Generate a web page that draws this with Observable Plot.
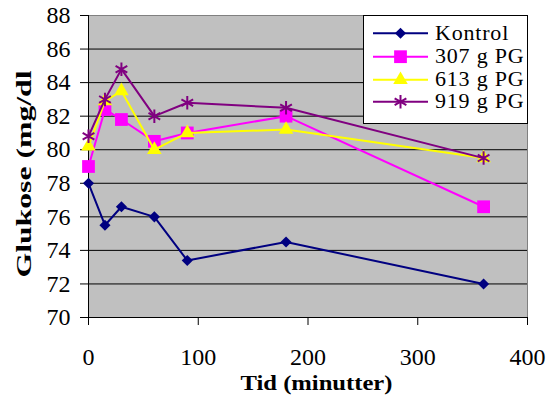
<!DOCTYPE html>
<html>
<head>
<meta charset="utf-8">
<script src="https://cdn.jsdelivr.net/npm/d3@7"></script>
<script src="https://cdn.jsdelivr.net/npm/@observablehq/plot@0.6"></script>
<style>
  html, body { margin: 0; padding: 0; background: white; }
  #wrap { position: relative; width: 547px; height: 405px; }
  #legend { position: absolute; left: 363px; top: 15px; }
</style>
</head>
<body>
<div id="wrap"><div id="chart"></div><div id="legend"></div></div>
<script>
// ---- data ----
const times = [0, 15, 30, 60, 90, 180, 360];
const seriesNames = ["Kontrol", "307 g PG", "613 g PG", "919 g PG"];
const kontrol = [78.0, 75.5, 76.6, 76.0, 73.4, 74.5, 72.0];
const pg307   = [79.0, 82.4, 81.8, 80.5, 81.0, 82.0, 76.6];
const pg613   = [80.2, 82.9, 83.5, 80.0, 81.0, 81.2, 79.5];
const pg919   = [80.8, 83.0, 84.8, 82.0, 82.8, 82.5, 79.5];
const xTicks = [0, 100, 200, 300, 400];
const yTicks = [70, 72, 74, 76, 78, 80, 82, 84, 86, 88];
const xLabel = "Tid (minutter)";
const yLabel = "Glukose (mg/dl";

// ---- styles ----
const FONT = "'Liberation Serif', 'DejaVu Serif', 'Times New Roman', serif";
const seriesValues = [kontrol, pg307, pg613, pg919];
const colors = ["#000080", "#FF00FF", "#FFFF00", "#800080"];
const symbols = ["diamond2", "square", "triangle", "asterisk"];
const radii = [5, 7.2, 5.4, 6.4];
const d3Symbols = [d3.symbolDiamond2, d3.symbolSquare, d3.symbolTriangle, d3.symbolAsterisk];

const rows = seriesNames.flatMap((name, i) =>
  times.map((t, j) => ({series: name, t, v: seriesValues[i][j]})));

const seriesMarks = seriesNames.flatMap((name, i) => {
  const d = rows.filter(r => r.series === name);
  const isStroke = symbols[i] === "asterisk";
  return [
    Plot.line(d, {x: "t", y: "v", stroke: colors[i], strokeWidth: 2}),
    Plot.dot(d, {
      x: "t", y: "v", symbol: () => symbols[i], r: radii[i],
      fill: isStroke ? "none" : colors[i],
      stroke: isStroke ? colors[i] : "none",
      strokeWidth: isStroke ? 2 : 0
    })
  ];
});

const chart = Plot.plot({
  width: 547,
  height: 405,
  marginLeft: 88,
  marginRight: 20,
  marginTop: 15,
  marginBottom: 88,
  style: {fontFamily: FONT, fontSize: "24px", background: "white", color: "black"},
  x: {domain: [0, 400]},
  y: {domain: [70, 88]},
  symbol: {type: "identity"},
  marks: [
    Plot.frame({fill: "#C0C0C0", stroke: null}),
    Plot.ruleY(yTicks.filter(v => v > 70 && v < 88), {stroke: "black", strokeWidth: 1}),
    Plot.frame({stroke: "#808080", fill: null}),
    Plot.ruleX([0], {stroke: "black"}),
    Plot.ruleY([70], {stroke: "black"}),
    Plot.axisX({ticks: xTicks, tickSize: 8, tickPadding: 22, label: null, tickFormat: d => String(d)}),
    Plot.axisY({ticks: yTicks, tickSize: 8, tickPadding: 10, label: null, tickFormat: d => String(d)}),
    ...seriesMarks,
    Plot.text([xLabel], {text: d => d, frameAnchor: "bottom", textAnchor: "start", dx: -67.5, dy: 72, fontWeight: "bold", fontSize: 22}),
    Plot.text([yLabel], {text: d => d, frameAnchor: "left", textAnchor: "start", rotate: -90, dx: -64.4, dy: 111, fontWeight: "bold", fontSize: 20})
  ]
});
document.getElementById("chart").appendChild(chart);

// stretch axis titles to their measured lengths
d3.select(chart).selectAll("text").each(function() {
  const t = this.textContent;
  if (t === xLabel) d3.select(this).attr("textLength", 152).attr("lengthAdjust", "spacingAndGlyphs");
  if (t === yLabel) d3.select(this).attr("textLength", 207).attr("lengthAdjust", "spacingAndGlyphs");
});

// ---- legend ----
const lw = 164, lh = 108;
const leg = d3.select("#legend").append("svg").attr("width", lw + 1).attr("height", lh + 1)
  .style("font-family", FONT).style("font-size", "22px").style("letter-spacing", "0.8px");
leg.append("rect").attr("x", 0.5).attr("y", 0.5).attr("width", lw).attr("height", lh)
  .attr("fill", "white").attr("stroke", "black");
const rowY = [18.3, 41.7, 64.8, 86.7];
seriesNames.forEach((name, i) => {
  const g = leg.append("g").attr("transform", `translate(0,${rowY[i]})`);
  g.append("line").attr("x1", 10).attr("x2", 65).attr("stroke", colors[i]).attr("stroke-width", 2);
  const isStroke = symbols[i] === "asterisk";
  g.append("path")
    .attr("transform", "translate(37.5,0)")
    .attr("d", d3.symbol(d3Symbols[i], Math.PI * radii[i] * radii[i])())
    .attr("fill", isStroke ? "none" : colors[i])
    .attr("stroke", isStroke ? colors[i] : "none")
    .attr("stroke-width", isStroke ? 2 : 0);
  g.append("text").attr("x", 72).attr("y", 6.5).text(name);
});
</script>
</body>
</html>
